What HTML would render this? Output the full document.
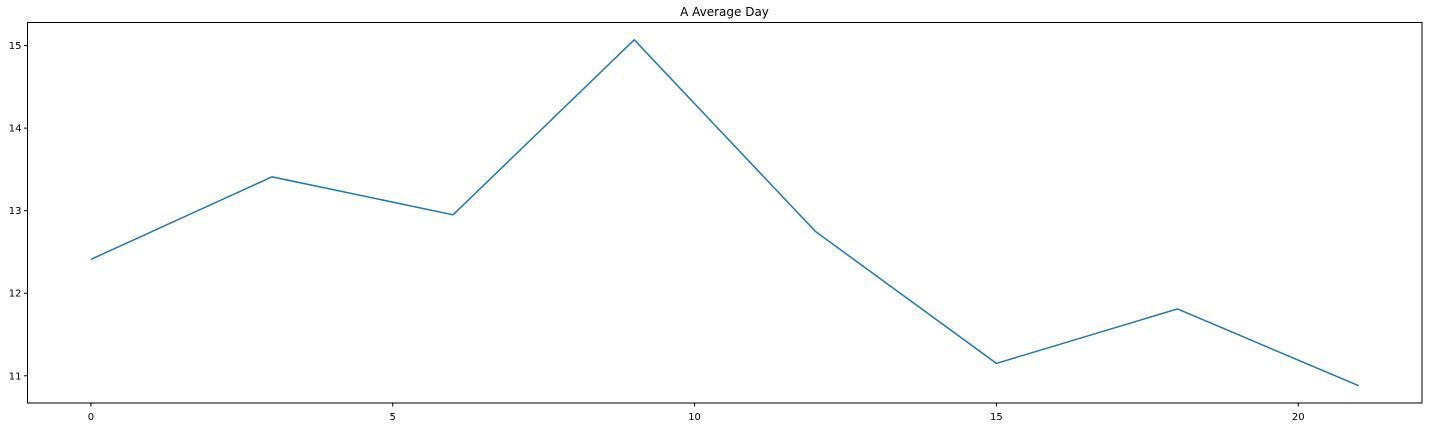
<!DOCTYPE html>
<html><head><meta charset="utf-8"><style>
body{margin:0;background:#fff;font-family:"Liberation Sans","DejaVu Sans",sans-serif}
svg text{font-family:"DejaVu Sans","Liberation Sans",sans-serif;font-size:10px;fill:#000}
</style></head><body>
<svg id="chart" width="1429" height="427">
<text x="724.5" y="16" text-anchor="middle" font-size="12" style="font-size:12px">A Average Day</text>
<g id="axes"></g>
<polyline id="line" fill="none" stroke="#1f77b4" stroke-width="1.5"/>
<rect x="27.5" y="22.5" width="1394.5" height="380.5" fill="none" stroke="#000" stroke-width="1"/>
</svg>
<script>
const hours=[0,3,6,9,12,15,18,21];
const values=[12.41,13.41,12.95,15.07,12.75,11.15,11.81,10.88];
const xTicks=[0,5,10,15,20];
const yTicks=[11,12,13,14,15];
const L=27.5,R=1422,T=22.5,B=403;
const xmin=-1.05,xmax=22.05;
const vmin=Math.min(...values),vmax=Math.max(...values),pad=(vmax-vmin)*0.05;
const ymin=vmin-pad,ymax=vmax+pad;
const xs=v=>L+(v-xmin)/(xmax-xmin)*(R-L);
const ys=v=>B-(v-ymin)/(ymax-ymin)*(B-T);
const ns="http://www.w3.org/2000/svg";
const g=document.getElementById('axes');
xTicks.forEach(t=>{
 const x=xs(t);
 const l=document.createElementNS(ns,'line');
 l.setAttribute('x1',x);l.setAttribute('x2',x);l.setAttribute('y1',B);l.setAttribute('y2',B+3.5);l.setAttribute('stroke','#000');
 
 
 g.appendChild(l);
 const tx=document.createElementNS(ns,'text');
 tx.setAttribute('x',x);tx.setAttribute('y',B+17);tx.setAttribute('text-anchor','middle');tx.textContent=t;
 
 
 g.appendChild(tx);
});
yTicks.forEach(t=>{
 const y=ys(t);
 const l=document.createElementNS(ns,'line');
 l.setAttribute('x1',L-3.5);l.setAttribute('x2',L);l.setAttribute('y1',y);l.setAttribute('y2',y);l.setAttribute('stroke','#000');
 
 
 g.appendChild(l);
 const tx=document.createElementNS(ns,'text');
 tx.setAttribute('x',L-6);tx.setAttribute('y',y+3.5);tx.setAttribute('text-anchor','end');tx.textContent=t;
 
 
 g.appendChild(tx);
});
document.getElementById('line').setAttribute('points',hours.map((h,i)=>xs(h)+','+ys(values[i])).join(' '));
</script>
</body></html>
